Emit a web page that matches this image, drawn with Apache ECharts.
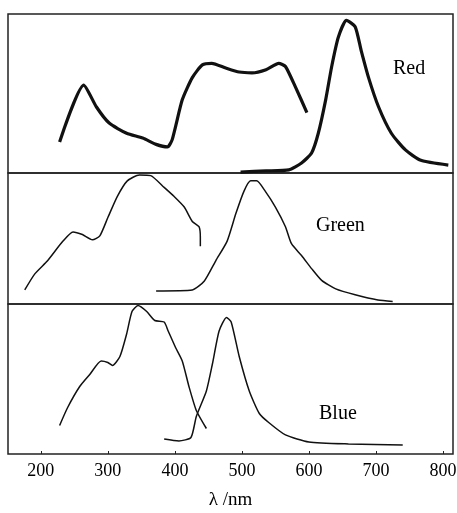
<!DOCTYPE html>
<html>
<head>
<meta charset="utf-8">
<script src="https://cdn.jsdelivr.net/npm/echarts@6/dist/echarts.min.js"></script>
<style>
  html, body { margin: 0; padding: 0; background: #fff; }
  #main { width: 457px; height: 513px; }
</style>
</head>
<body>
<div id="main"></div>
<script>
// wavelength range and tick labels
var xMin = 151, xMax = 815;
var tickValues = [200, 300, 400, 500, 600, 700, 800];
var panelNames = ['Red', 'Green', 'Blue'];

// [nm, relative intensity]
var redExcitation = [[228,0.195],[264,0.553],[283,0.415],[302,0.314],[328,0.25],[352,0.22],[372,0.18],[389,0.164],[396,0.21],[411,0.46],[426,0.60],[441,0.68],[455,0.69],[476,0.66],[496,0.635],[515,0.63],[536,0.65],[555,0.69],[565,0.67],[580,0.54],[597,0.38]];
var redEmission = [[498,0.006],[536,0.013],[570,0.02],[589,0.063],[604,0.126],[614,0.25],[625,0.46],[634,0.67],[644,0.855],[656,0.96],[669,0.92],[678,0.77],[689,0.60],[704,0.415],[723,0.25],[744,0.145],[767,0.08],[808,0.05]];
var greenExcitation = [[176,0.107],[191,0.23],[210,0.33],[233,0.48],[248,0.55],[262,0.53],[277,0.49],[288,0.52],[300,0.66],[314,0.82],[329,0.94],[347,0.985],[364,0.98],[384,0.89],[399,0.82],[414,0.74],[426,0.63],[436,0.59],[438,0.51],[438,0.44]];
var greenEmission = [[372,0.10],[426,0.107],[444,0.176],[461,0.33],[478,0.48],[491,0.69],[503,0.86],[513,0.94],[522,0.94],[535,0.86],[550,0.74],[565,0.59],[574,0.46],[589,0.37],[604,0.27],[619,0.18],[640,0.115],[669,0.07],[703,0.03],[725,0.02]];
var blueExcitation = [[228,0.19],[240,0.31],[258,0.45],[273,0.53],[290,0.62],[300,0.61],[307,0.59],[318,0.65],[328,0.80],[336,0.95],[345,0.99],[358,0.95],[370,0.89],[384,0.88],[390,0.82],[401,0.71],[411,0.62],[421,0.45],[432,0.29],[447,0.17]];
var blueEmission = [[384,0.10],[406,0.087],[424,0.11],[432,0.25],[447,0.42],[456,0.60],[466,0.82],[477,0.91],[484,0.88],[496,0.65],[511,0.42],[526,0.27],[540,0.21],[565,0.127],[600,0.08],[659,0.067],[740,0.06]];

var serif = '"Liberation Serif", "DejaVu Serif", serif';
var grids = [
  { left: 8, right: 4, top: 14, height: 159 },
  { left: 8, right: 4, top: 173, height: 131 },
  { left: 8, right: 4, top: 304, height: 150 }
];

var xAxes = grids.map(function (g, i) {
  var last = i === grids.length - 1;
  return {
    type: 'value', gridIndex: i, min: xMin, max: xMax,
    splitLine: { show: false },
    axisLine: { show: false },
    axisTick: { show: last, inside: true, length: 3, customValues: tickValues, lineStyle: { color: '#222' } },
    axisLabel: { show: last, customValues: tickValues, margin: 8, color: '#000', fontFamily: serif, fontSize: 18 },
    name: last ? 'λ /nm' : '',
    nameLocation: 'middle', nameGap: 37,
    nameTextStyle: { color: '#000', fontFamily: serif, fontSize: 19 }
  };
});
var yAxes = grids.map(function (g, i) {
  return { type: 'value', gridIndex: i, min: 0, max: 1, show: false };
});

function line(data, idx, width) {
  return {
    type: 'line', xAxisIndex: idx, yAxisIndex: idx, data: data,
    symbol: 'none', smooth: 0.2,
    lineStyle: { color: '#111', width: width }
  };
}

var chart = echarts.init(document.getElementById('main'));
chart.setOption({
  backgroundColor: '#fff',
  animation: false,
  grid: grids.map(function (g) {
    return Object.assign({ show: true, borderColor: '#222', borderWidth: 1.5, containLabel: false, outerBoundsMode: 'none' }, g);
  }),
  xAxis: xAxes,
  yAxis: yAxes,
  series: [
    line(redExcitation, 0, 3.2),
    line(redEmission, 0, 3.2),
    line(greenExcitation, 1, 1.5),
    line(greenEmission, 1, 1.5),
    line(blueExcitation, 2, 1.5),
    line(blueEmission, 2, 1.5)
  ],
  graphic: [
    { type: 'text', left: 393, top: 59, style: { text: panelNames[0], font: '20px ' + serif, fill: '#000' } },
    { type: 'text', left: 316, top: 216, style: { text: panelNames[1], font: '20px ' + serif, fill: '#000' } },
    { type: 'text', left: 319, top: 404, style: { text: panelNames[2], font: '20px ' + serif, fill: '#000' } }
  ]
});
</script>
</body>
</html>
